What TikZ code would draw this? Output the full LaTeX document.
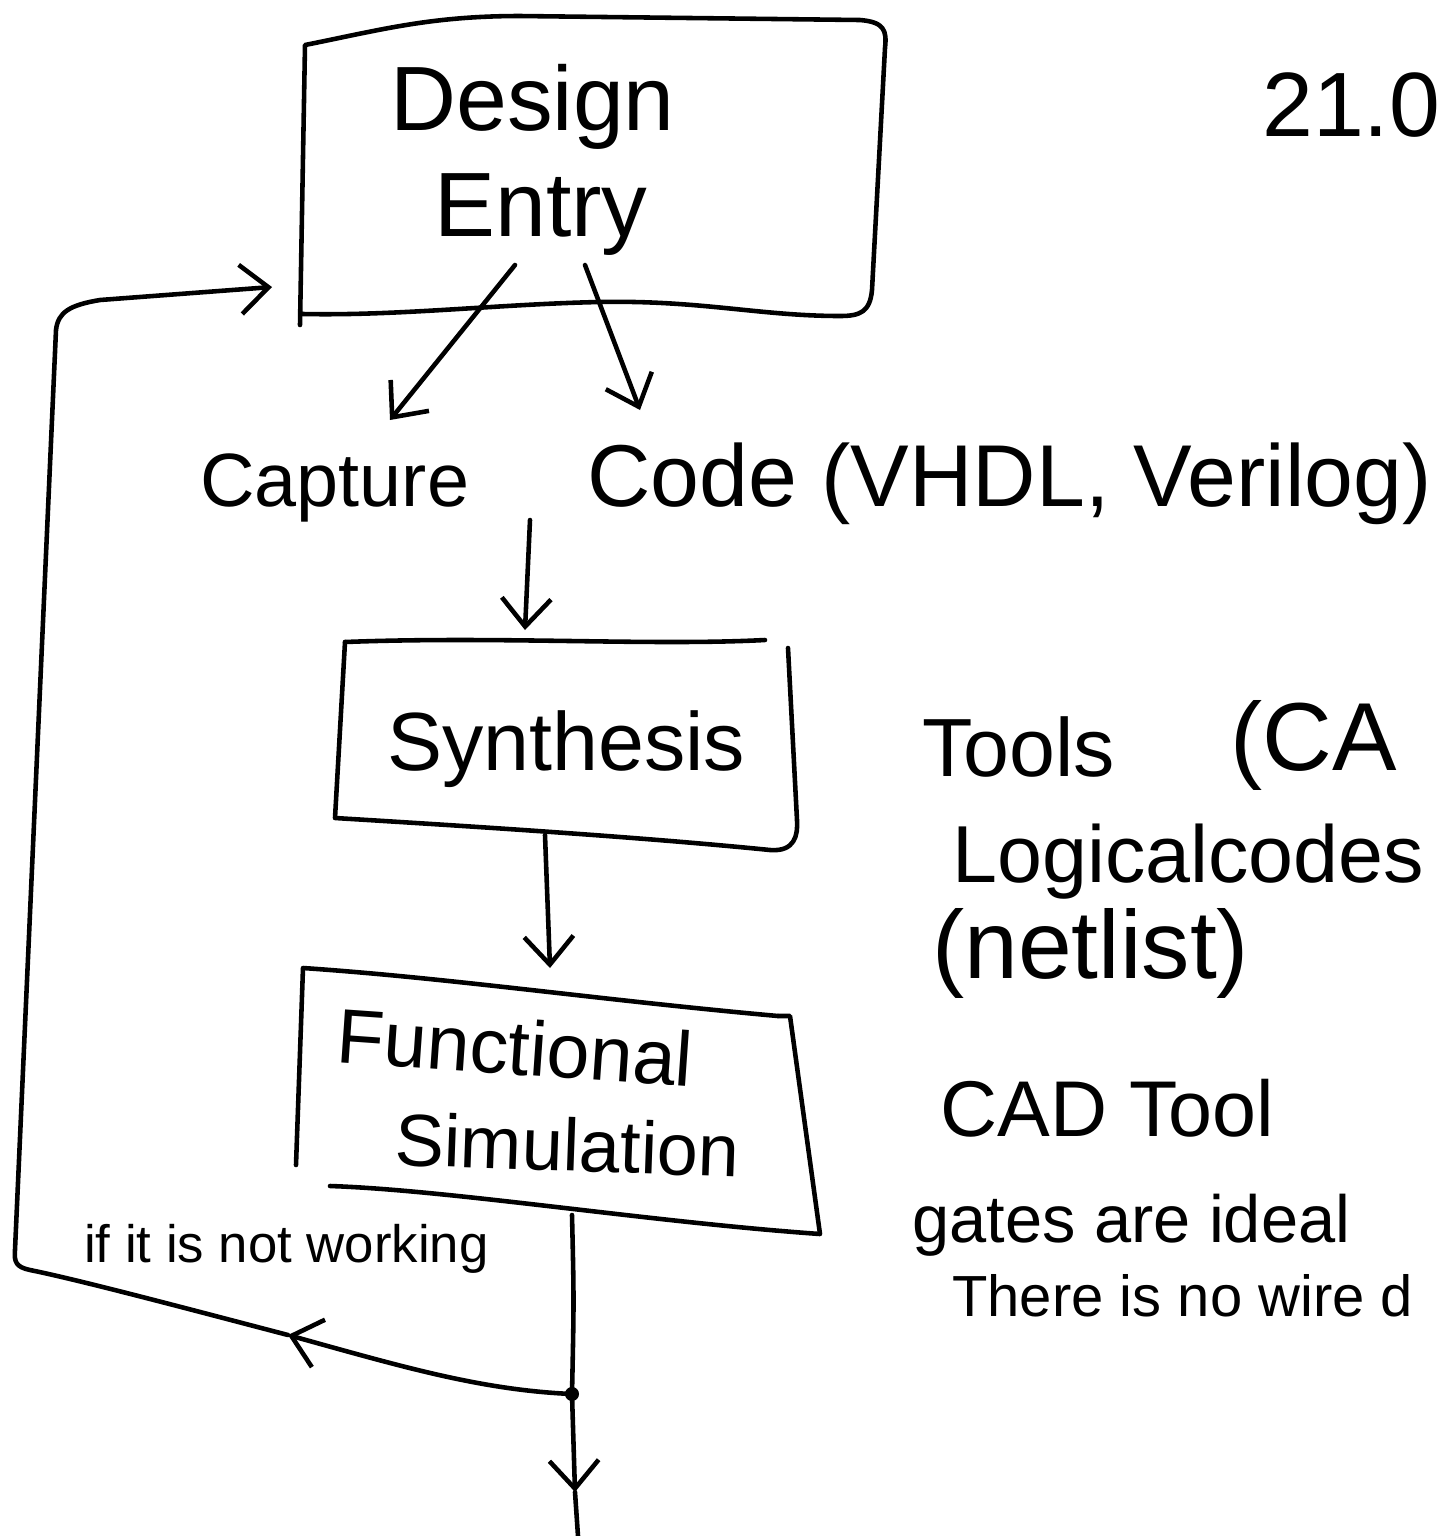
\documentclass[tikz,border=0pt]{standalone}
\usepackage{fontspec}
\setmainfont{Liberation Sans}
\usetikzlibrary{arrows.meta}
\begin{document}
\begin{tikzpicture}[x=0.02cm,y=-0.02cm, line width=2.6pt, line cap=round, line join=round,
  arr/.style={-{Straight Barb[length=16pt,width=28pt,line width=2.6pt]}},
  lbl/.style={inner sep=0pt, anchor=base west},
  fs/.style={font=\fontsize{#1}{#1}\selectfont}]
\useasboundingbox (0,0) rectangle (1444,1536);

% ---------- Design Entry box ----------
\draw (300,325) -- (305,45) .. controls (380,30) and (430,16) .. (520,16)
      -- (860,20) .. controls (884,22) and (887,30) .. (885,48)
      -- (872,290) .. controls (870,312) and (860,316) .. (840,316)
      .. controls (760,316) and (700,300) .. (600,302)
      .. controls (500,304) and (400,316) .. (303,314);
\node[lbl, fs=52] (design) at (388,130) {Design};
\node[lbl, fs=52] (entry) at (432,236) {Entry};
\node[lbl, fs=52] (date) at (1260,136) {21.0};
\coordinate (deL) at (515,265);
\coordinate (deR) at (585,265);
\coordinate (deIn) at (272,287);

% ---------- Capture / Code ----------
\node[lbl, fs=43] (capture) at (198,506) {Capture};
\node[lbl, fs=50] (code) at (585,506) {Code (VHDL, Verilog)};
\coordinate (capT) at (390,420);
\coordinate (codeT) at (640,410);
\draw[arr] (deL) -- (capT);
\draw[arr] (deR) -- (codeT);

% ---------- Synthesis box ----------
\draw (345,642) .. controls (500,636) and (650,646) .. (765,640);
\draw (345,642) -- (335,818) .. controls (500,828) and (650,838) .. (770,850)
      .. controls (795,852) and (798,835) .. (797,820) -- (788,648);
\node[lbl, fs=47] (synth) at (385,770) {Synthesis};
\coordinate (codeB) at (530,520);
\coordinate (synT) at (525,630);
\draw[arr] (codeB) -- (synT);

% ---------- Functional Simulation box ----------
\draw (296,1165) -- (303,968) .. controls (450,978) and (600,1000) .. (778,1016);
\draw (778,1016) -- (790,1016) -- (820,1234)
      .. controls (650,1222) and (450,1190) .. (330,1186);
\node[lbl, fs=44, rotate=-4] (func) at (333,1062) {Functional};
\node[lbl, fs=42, rotate=-2] (simu) at (392,1165) {Simulation};
\coordinate (synB) at (545,835);
\coordinate (fsT) at (550,968);
\draw[arr] (synB) -- (fsT);

% ---------- output line and feedback ----------
\coordinate (fsB) at (572,1215);
\coordinate (dot) at (572,1394);
\coordinate (outA) at (575,1492);
\coordinate (outE) at (578,1536);
\coordinate (fbmid) at (288,1335);
\draw (fsB) .. controls (574,1300) .. (dot);
\draw[arr] (dot) -- (outA);
\draw (outA) -- (outE);
\fill (dot) circle (4pt);
\draw[arr] (dot) .. controls (480,1390) and (400,1366) .. (fbmid);
\draw[arr] (fbmid) .. controls (200,1312) and (80,1280) .. (30,1270)
      .. controls (16,1267) and (14,1262) .. (15,1250)
      -- (56,330) .. controls (58,312) and (70,305) .. (100,300) -- (deIn);
\node[lbl, fs=30] (notw) at (82,1262) {if it is not working};

% ---------- right-hand notes ----------
\node[lbl, fs=47] (tools) at (920,776) {Tools};
\node[lbl, fs=55] (cad1) at (1228,770) {(CA};
\node[lbl, fs=46] (logic) at (950,882) {Logicalcodes};
\node[lbl, fs=55] (net) at (930,978) {(netlist)};
\node[lbl, fs=45] (cadt) at (938,1136) {CAD Tool};
\node[lbl, fs=38] (gates) at (910,1242) {gates are ideal};
\node[lbl, fs=33] (wire) at (950,1316) {There is no wire d};
\end{tikzpicture}
\end{document}
